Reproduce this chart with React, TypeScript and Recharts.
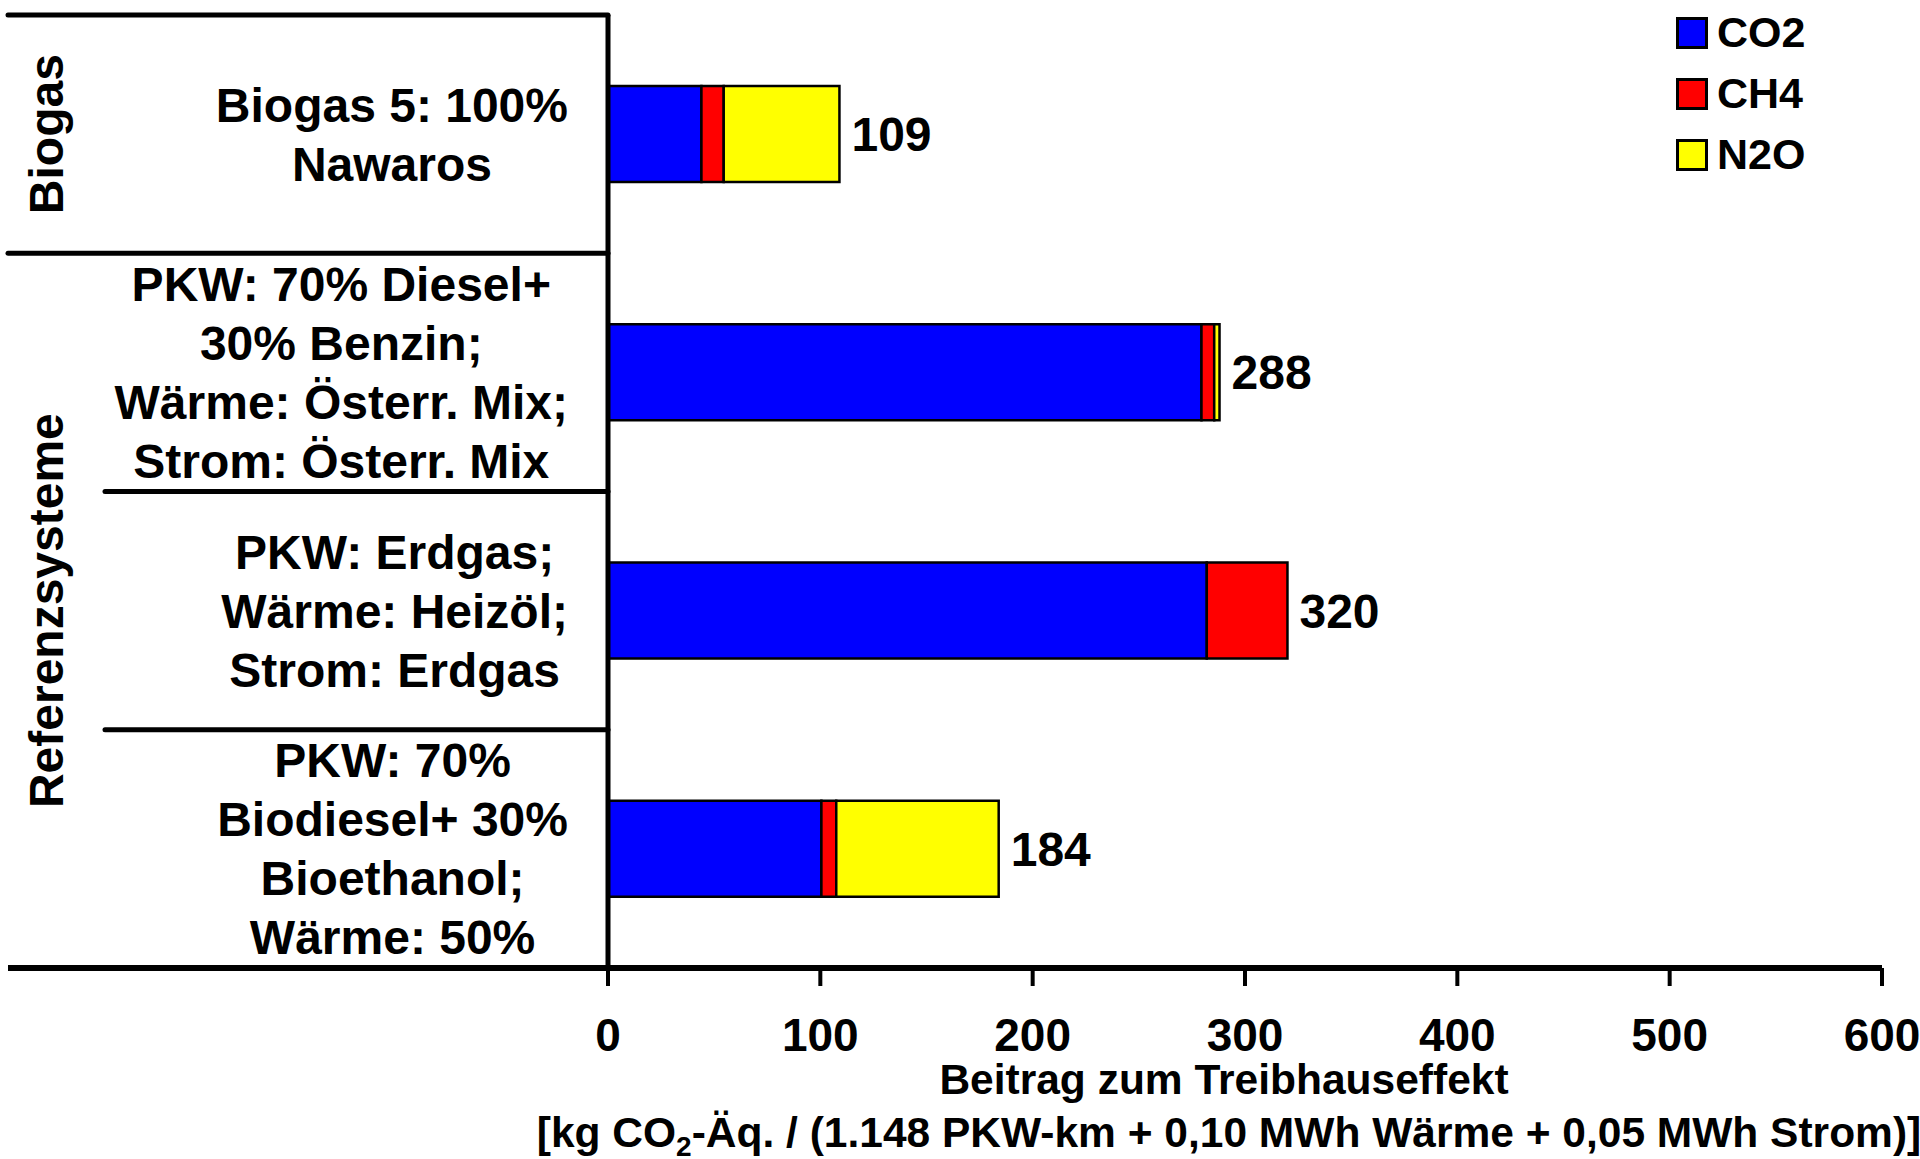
import { BarChart, Bar, XAxis, YAxis, Legend, LabelList } from 'recharts';

const categories = [
  ['Biogas 5: 100%', 'Nawaros'],
  ['PKW: 70% Diesel+', '30% Benzin;', 'Wärme: Österr. Mix;', 'Strom: Österr. Mix'],
  ['PKW: Erdgas;', 'Wärme: Heizöl;', 'Strom: Erdgas'],
  ['PKW: 70%', 'Biodiesel+ 30%', 'Bioethanol;', 'Wärme: 50%'],
];
const groups = ['Biogas', 'Referenzsysteme', 'Referenzsysteme', 'Referenzsysteme'];
const co2 = [44, 279.5, 282, 100.5];
const ch4 = [10.5, 6, 38, 7];
const n2o = [54.5, 2.5, 0, 76.5];
const totals = [109, 288, 320, 184];
const xTicks = [0, 100, 200, 300, 400, 500, 600];
const seriesKeys = ['co2', 'ch4', 'n2o'];
const seriesNames = ['CO2', 'CH4', 'N2O'];
const seriesColors = ['#0000ff', '#ff0000', '#ffff00'];

const FONT = '"Liberation Sans", Arial, sans-serif';
const LABEL_SIZE = 48;
const LINE_H = 59;
const AXIS_X = 608;
const PLOT_TOP = 15;
const PLOT_BOTTOM = 968;

const data = categories.map((lines, i) => ({
  name: lines.join('\n'),
  co2: co2[i],
  ch4: ch4[i],
  n2o: n2o[i],
  total: totals[i],
}));

let ctx: CanvasRenderingContext2D | null = null;
function textWidth(s: string, size: number) {
  if (!ctx) ctx = document.createElement('canvas').getContext('2d');
  if (!ctx) return s.length * size * 0.55;
  ctx.font = `bold ${size}px "Liberation Sans"`;
  return ctx.measureText(s).width;
}

function CategoryTick(props: any) {
  const { y, index } = props;
  const half = props.payload?.offset || (PLOT_BOTTOM - PLOT_TOP) / categories.length / 2;
  const lines = categories[index];
  const maxW = Math.max(...lines.map(l => textWidth(l, LABEL_SIZE)));
  const cx = AXIS_X - 40 - maxW / 2;
  const newGroup = index === 0 || groups[index] !== groups[index - 1];
  let end = index;
  while (end + 1 < groups.length && groups[end + 1] === groups[index]) end++;
  const groupY = y + (end - index) * half;

  return (
    <g>
      <line x1={newGroup ? 8 : 105} x2={AXIS_X} y1={y - half} y2={y - half}
        stroke="#000" strokeWidth={5} strokeLinecap="round" />
      {index === categories.length - 1 && (
        <line x1={8} x2={AXIS_X} y1={y + half} y2={y + half} stroke="#000" strokeWidth={6} />
      )}
      {lines.map((l, k) => (
        <text key={k} x={cx} y={y + (k - (lines.length - 1) / 2) * LINE_H + 17}
          textAnchor="middle" fontSize={LABEL_SIZE} fontWeight="bold" fill="#000">
          {l}
        </text>
      ))}
      {newGroup && (
        <text transform={`translate(63, ${groupY}) rotate(-90)`} textAnchor="middle"
          fontSize={LABEL_SIZE} fontWeight="bold" fill="#000">
          {groups[index]}
        </text>
      )}
    </g>
  );
}

// total goes after the last non-zero segment of each bar (label value = row name)
function totalLabel(series: number) {
  return (props: any) => {
    const i = data.findIndex(d => d.name === props.value);
    if (i < 0) return null;
    const vals = [co2[i], ch4[i], n2o[i]];
    let last = -1;
    vals.forEach((v, k) => { if (v > 0) last = k; });
    if (last !== series) return null;
    const vb = props.viewBox ?? props;
    return (
      <text x={vb.x + vb.width + 12} y={vb.y + vb.height / 2 + 17}
        fontSize={48} fontWeight="bold" fill="#000">
        {totals[i]}
      </text>
    );
  };
}

function AxisTitle(props: any) {
  const vb = props.viewBox || { x: AXIS_X, y: PLOT_BOTTOM, width: 1274 };
  const cx = vb.x + vb.width / 2 - 19;
  return (
    <g fontWeight="bold" fill="#000" fontSize={42.5}>
      <text x={cx - 2} y={vb.y + 126} textAnchor="middle">Beitrag zum Treibhauseffekt</text>
      <text x={cx + 3} y={vb.y + 179} textAnchor="middle">
        [kg CO<tspan fontSize={28} dy={9}>2</tspan>
        <tspan dy={-9}>-Äq. / (1.148 PKW-km + 0,10 MWh Wärme + 0,05 MWh Strom)]</tspan>
      </text>
    </g>
  );
}

function LegendBox() {
  return (
    <div style={{ fontFamily: FONT, fontWeight: 'bold', fontSize: 43, color: '#000' }}>
      {seriesNames.map((n, i) => (
        <div key={n} style={{ display: 'flex', alignItems: 'center', height: 61 }}>
          <span style={{ width: 26, height: 26, background: seriesColors[i], border: '3px solid #000', marginRight: 9 }} />
          {n}
        </div>
      ))}
    </div>
  );
}

export default function App() {
  return (
    <div style={{ position: 'absolute', left: 0, top: 0, width: 1920, height: 1159, background: '#fff', fontFamily: FONT }}>
      <BarChart width={1920} height={1159} data={data} layout="vertical"
        margin={{ top: PLOT_TOP, right: 38, bottom: 131, left: 0 }}>
        <XAxis type="number" domain={[0, 600]} ticks={xTicks} interval={0}
          height={60} tickSize={18} tickMargin={32}
          axisLine={{ stroke: '#000', strokeWidth: 6 }}
          tickLine={{ stroke: '#000', strokeWidth: 4 }}
          tick={{ fill: '#000', fontSize: 46, fontWeight: 'bold' }}
          label={<AxisTitle />} />
        <YAxis type="category" dataKey="name" width={AXIS_X} interval={0}
          tickLine={false} axisLine={{ stroke: '#000', strokeWidth: 5 }}
          tick={<CategoryTick />} />
        <Legend layout="horizontal" verticalAlign="middle" align="center"
          wrapperStyle={{ left: 1676, top: 2, width: 240 }} content={<LegendBox />} />
        {seriesKeys.map((k, s) => (
          <Bar key={k} dataKey={k} name={seriesNames[s]} stackId="a" fill={seriesColors[s]}
            stroke="#000" strokeWidth={2.5} barSize={96} isAnimationActive={false}>
            <LabelList dataKey="name" content={totalLabel(s)} />
          </Bar>
        ))}
      </BarChart>
    </div>
  );
}
